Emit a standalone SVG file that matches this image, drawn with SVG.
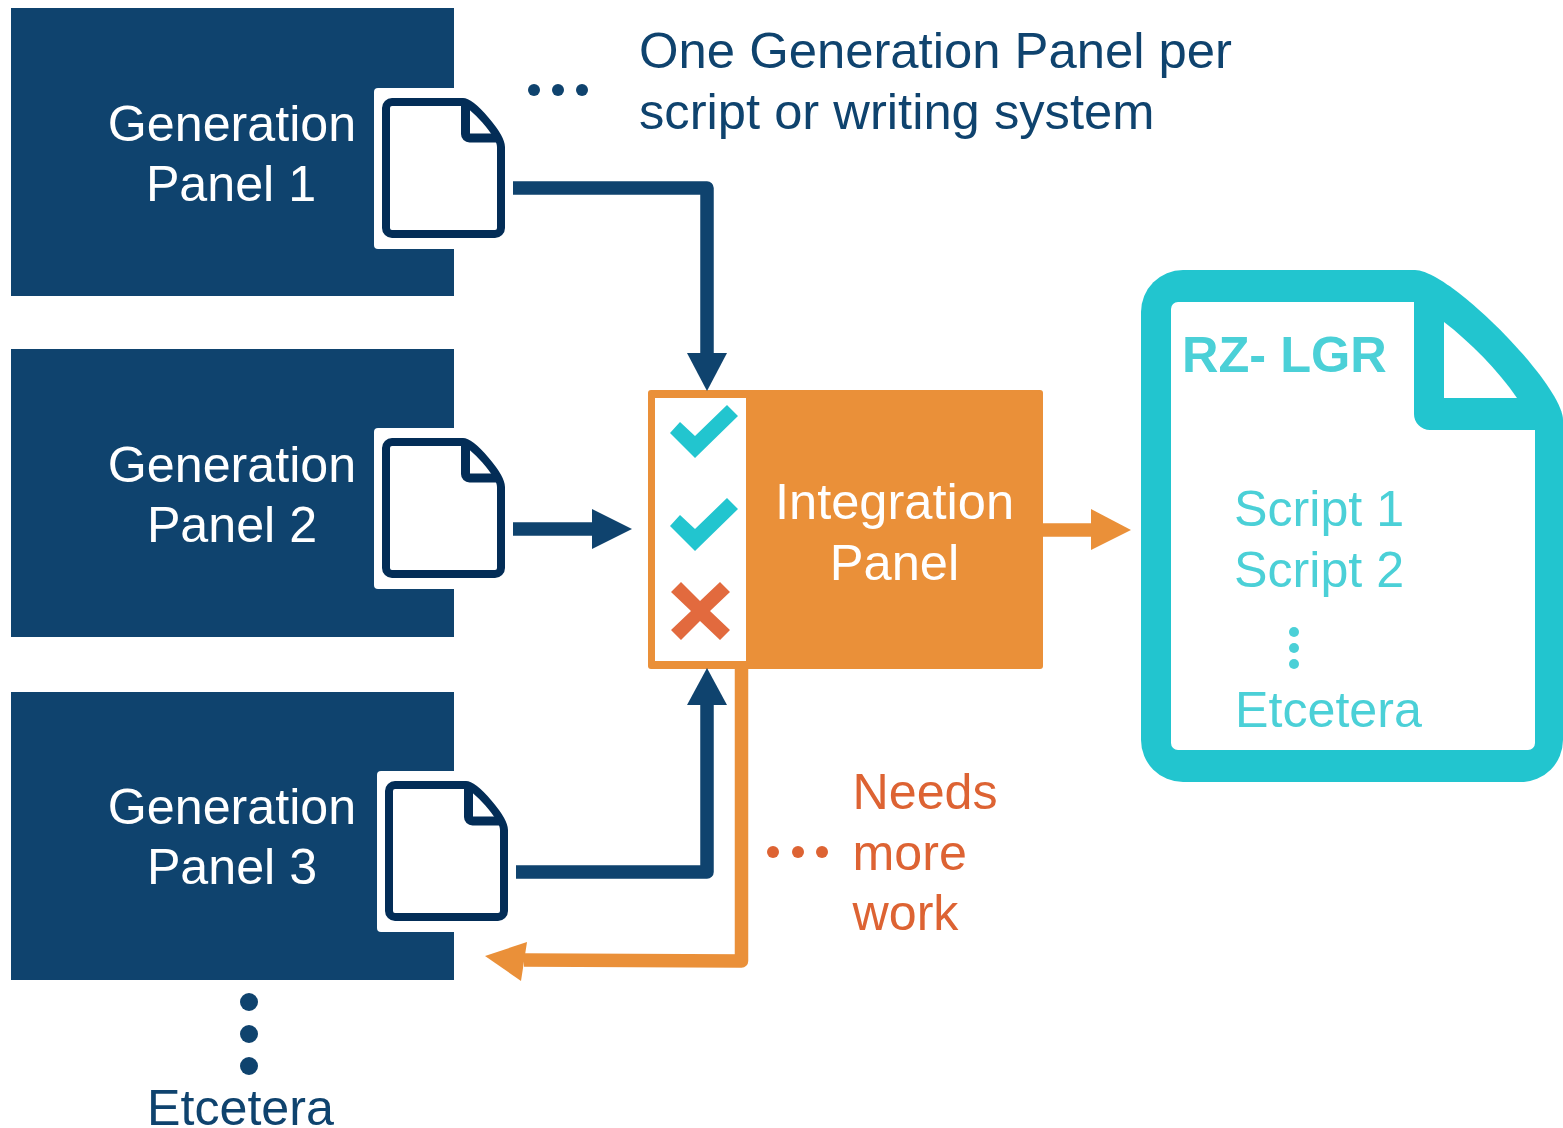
<svg xmlns="http://www.w3.org/2000/svg" width="1563" height="1128" viewBox="0 0 1563 1128">
<style>
text{font-family:"Liberation Sans",Arial,sans-serif;font-size:50.2px}
.c{text-anchor:middle}
.w{fill:#fff}
.n{fill:#0F436E}
.t{fill:#4BD0D7}
.r{fill:#DD6333}
.panel{fill:#0F436E}
.doc{fill:#fff;stroke:#032D57;stroke-width:8;stroke-linejoin:round}
.fold{fill:none;stroke:#032D57;stroke-width:9;stroke-linejoin:round}
.navyline{fill:none;stroke:#0F436E;stroke-width:13.5;stroke-linejoin:round}
.orangeline{fill:none;stroke:#EA9039;stroke-width:13.5;stroke-linejoin:round}
</style>
<defs>
<g id="docicon">
<rect x="374" y="88" width="90" height="161" rx="4" fill="#fff"/>
<path class="doc" d="M392 102H463C472 102 501 135 501 147V228a6 6 0 0 1-6 6H392a6 6 0 0 1-6-6V108a6 6 0 0 1 6-6Z"/>
<path class="fold" d="M465.500 104V134a4 4 0 0 0 4 4H500"/>
</g>
</defs>
<g id="panel1">
<rect class="panel" x="11" y="8" width="443" height="288"/>
<use href="#docicon"/>
<text class="c w" x="232" y="141">Generation</text>
<text class="c w" x="231" y="201">Panel 1</text>
</g>
<g id="panel2">
<rect class="panel" x="11" y="349" width="443" height="288"/>
<use href="#docicon" y="340"/>
<text class="c w" x="232" y="482">Generation</text>
<text class="c w" x="232" y="542">Panel 2</text>
</g>
<g id="panel3">
<rect class="panel" x="11" y="692" width="443" height="288"/>
<use href="#docicon" x="3" y="683"/>
<text class="c w" x="232" y="824">Generation</text>
<text class="c w" x="232" y="884">Panel 3</text>
</g>
<g id="more-panels">
<circle class="n" cx="249" cy="1002" r="9"/>
<circle class="n" cx="249" cy="1034" r="9"/>
<circle class="n" cx="249" cy="1066" r="9"/>
<text class="n" x="147" y="1125">Etcetera</text>
</g>
<g id="note">
<circle class="n" cx="534" cy="90" r="6"/>
<circle class="n" cx="558" cy="90" r="6"/>
<circle class="n" cx="582" cy="90" r="6"/>
<text class="n" x="639" y="67.500" style="font-size:50.800px">One Generation Panel per</text>
<text class="n" x="639" y="128.500" style="font-size:50.700px">script or writing system</text>
</g>
<g id="integration">
<rect x="648" y="390" width="395" height="279" rx="3" fill="#EA9039"/>
<rect x="655" y="398" width="91" height="263" fill="#fff"/>
<polygon points="670,433 680,422 695,436 727,405 738,416 695,458" fill="#22C5CF"/>
<polygon points="670,526 680,515 695,529 727,498 738,509 695,551" fill="#22C5CF"/>
<polygon points="671,592 681,582 700,601 720,582 730,592 710,611 730,630 720,640 700,621 681,640 671,630 691,611" fill="#E26A3E"/>
<text class="c w" x="894.500" y="519" style="font-size:50.600px">Integration</text>
<text class="c w" x="894.500" y="580" style="font-size:50.600px">Panel</text>
</g>
<g id="rz-lgr">
<path fill="#22C5CF" fill-rule="evenodd" d="M1186 270H1415C1450 270 1563 385 1563 420V740a42 42 0 0 1-42 42H1183a42 42 0 0 1-42-42V312a42 42 0 0 1 42-42Z"/>
<path fill="#fff" d="M1414 302H1178a7 7 0 0 0-7 7V743a7 7 0 0 0 7 7H1528a7 7 0 0 0 7-7V430H1430a16 16 0 0 1-16-16Z"/>
<path fill="#fff" d="M1444 322C1470 342 1498 370 1517 398H1444Z"/>
<text class="t" x="1182" y="372" style="font-weight:700;font-size:50.500px">RZ- LGR</text>
<text class="t" x="1234" y="526">Script 1</text>
<text class="t" x="1234" y="587">Script 2</text>
<circle class="t" cx="1294" cy="632" r="5"/>
<circle class="t" cx="1294" cy="648" r="5"/>
<circle class="t" cx="1294" cy="664" r="5"/>
<text class="t" x="1235" y="727">Etcetera</text>
</g>
<g id="needs-more-work">
<circle class="r" cx="773" cy="852" r="6"/>
<circle class="r" cx="798" cy="852" r="6"/>
<circle class="r" cx="822" cy="852" r="6"/>
<text class="r" x="852.500" y="809">Needs</text>
<text class="r" x="852.500" y="870">more</text>
<text class="r" x="852.500" y="930">work</text>
</g>
<g id="connectors">
<path class="navyline" d="M513 188H707V356"/>
<polygon class="n" points="687,353 727,353 707,391"/>
<path class="navyline" d="M513 529H594"/>
<polygon class="n" points="592,509 632,529 592,549"/>
<path class="navyline" d="M516 872H707V703"/>
<polygon class="n" points="687,705 727,705 707,668"/>
<path class="orangeline" d="M741.500 669V961L524 960"/>
<polygon fill="#EA9039" points="485,956 527,942 521,981"/>
<path class="orangeline" d="M1043 530H1093"/>
<polygon fill="#EA9039" points="1091,509 1131,530 1091,550"/>
</g>
</svg>
